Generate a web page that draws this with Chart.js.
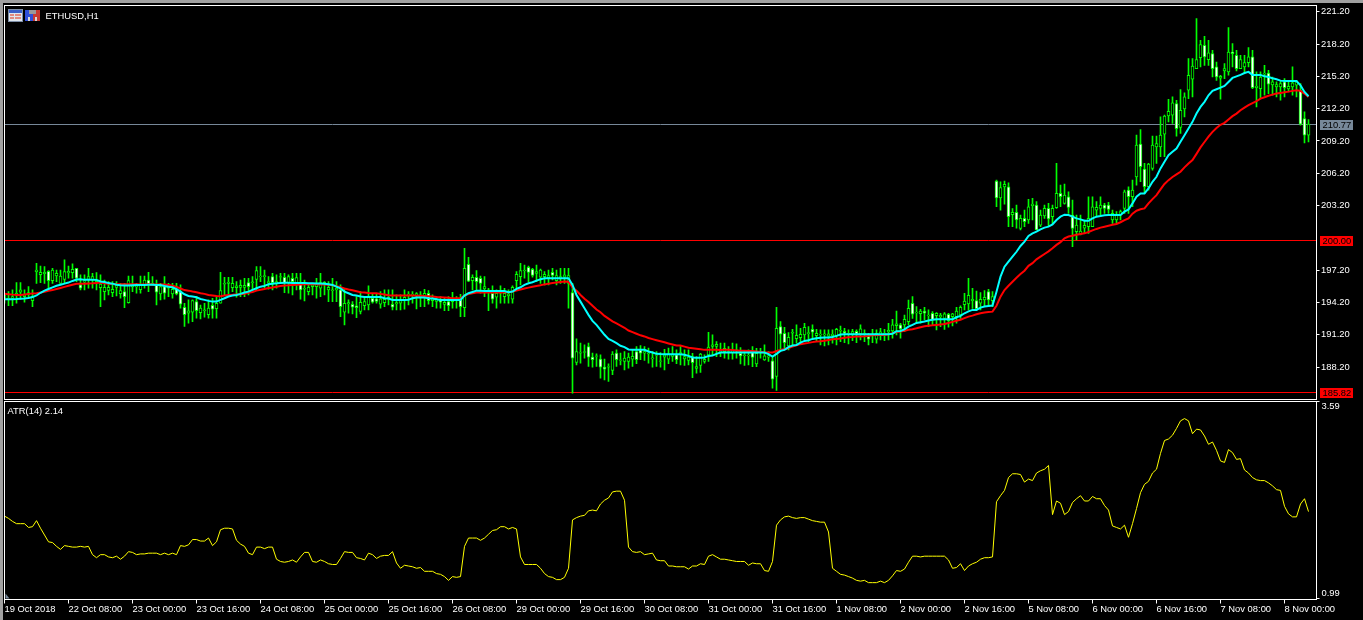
<!DOCTYPE html>
<html><head><meta charset="utf-8">
<script src="https://cdn.jsdelivr.net/npm/chart.js@4"></script>
<style>
html,body{margin:0;padding:0;background:#000;width:1363px;height:620px;overflow:hidden}
canvas{position:absolute;left:0;display:block}
#edgeT{position:absolute;left:0;top:0;width:1363px;height:3px;background:#a0a0a0}
#edgeL{position:absolute;left:0;top:0;width:3px;height:620px;background:#a0a0a0}
</style></head><body>
<canvas id="price" width="1363" height="400" style="top:0;width:1363px;height:400px"></canvas>
<canvas id="atrc" width="1363" height="220" style="top:400px;width:1363px;height:220px"></canvas>
<div id="edgeT"></div><div id="edgeL"></div>
<script>
const timeLabels=['19 Oct 2018','22 Oct 08:00','23 Oct 00:00','23 Oct 16:00','24 Oct 08:00','25 Oct 00:00','25 Oct 16:00','26 Oct 08:00','29 Oct 00:00','29 Oct 16:00','30 Oct 08:00','31 Oct 00:00','31 Oct 16:00','1 Nov 08:00','2 Nov 00:00','2 Nov 16:00','5 Nov 08:00','6 Nov 00:00','6 Nov 16:00','7 Nov 08:00','8 Nov 00:00'];
const priceTicks=[221.2,218.2,215.2,212.2,209.2,206.2,203.2,197.2,194.2,191.2,188.2];
const atrTicks=[0.99,3.59];
const levels=[200.00,185.82];
const bidLevel=[210.77];
const highs=[
195.06,195.21,195.37,196.04,196.04,195.37,195.67,195.37,197.84,197.59,
197.53,197.16,197.37,197.22,197.22,198.15,197.59,197.78,197.37,196.76,
196.76,197.37,196.91,196.97,196.76,196.29,196.14,196.14,196.14,195.98,
195.98,196.66,196.66,195.98,196.66,196.66,197.00,196.60,196.29,195.98,
196.60,195.98,195.98,195.98,195.83,194.13,194.44,194.44,194.75,193.97,
194.13,194.44,194.59,194.75,197.00,196.54,196.54,196.54,196.14,196.29,
196.45,196.45,196.60,197.53,197.53,197.22,196.60,196.91,196.76,196.91,
196.91,196.76,196.91,196.91,196.91,196.29,195.83,195.98,196.45,196.91,
196.14,196.14,196.45,196.14,195.83,195.52,194.44,194.28,194.75,195.21,
194.75,195.74,195.06,195.06,195.21,195.37,195.37,195.37,194.90,194.90,
195.37,195.21,195.21,195.12,195.21,195.43,195.30,194.90,194.75,194.75,
194.59,194.75,195.15,194.75,194.96,199.23,198.39,196.76,197.16,196.66,
196.60,195.52,195.74,195.37,195.74,195.52,195.37,195.74,197.06,197.84,
197.68,197.59,197.37,197.68,197.31,197.06,197.22,197.37,197.22,197.37,
197.37,197.37,195.98,190.82,190.42,190.27,190.42,189.50,189.43,189.34,
188.94,188.51,189.65,189.80,189.50,189.65,189.50,189.80,190.11,190.20,
190.11,189.96,189.65,189.65,189.56,189.86,189.96,190.11,189.80,190.11,
189.80,189.80,189.49,189.18,189.49,189.34,191.44,191.19,190.57,190.42,
190.42,190.11,190.42,190.36,190.02,189.64,189.80,190.11,189.95,189.95,
190.26,189.64,189.24,193.75,192.43,191.90,191.41,191.71,192.12,191.81,
192.27,191.96,192.12,191.71,191.65,191.65,191.65,191.65,191.81,192.02,
191.81,191.65,191.71,191.65,192.12,191.65,191.34,191.71,191.65,191.81,
191.71,192.27,192.64,193.41,192.27,193.04,194.43,194.74,193.82,193.57,
193.75,193.51,193.35,193.26,193.20,193.26,193.20,193.20,193.75,193.88,
195.05,196.44,195.52,195.27,195.11,195.30,195.42,195.21,205.56,205.40,
205.47,205.31,202.93,203.24,202.32,202.78,203.77,203.86,203.56,202.78,
203.25,203.40,203.25,207.11,205.10,205.19,204.48,203.71,202.32,202.32,
201.86,204.02,204.02,203.56,204.02,203.40,203.49,202.78,202.63,202.78,
204.64,204.95,205.56,209.74,210.26,207.11,207.11,209.64,209.64,211.43,
211.59,213.07,213.29,212.98,213.97,213.66,216.84,216.84,220.55,218.54,
218.91,218.54,217.62,216.53,215.30,216.38,219.72,218.23,217.62,217.15,
217.15,217.86,217.62,215.61,215.61,216.22,215.76,215.14,214.68,214.83,
214.99,214.68,216.07,214.83,214.53,211.90,211.19];
const lows=[
194.13,193.91,193.91,194.13,194.50,194.22,194.59,193.82,195.98,196.04,
195.98,195.37,195.98,196.14,195.98,195.98,196.45,196.45,196.14,195.37,
195.37,195.52,195.52,195.37,193.82,194.44,194.90,194.75,194.81,194.59,
193.73,194.13,195.21,195.06,195.06,195.52,195.21,195.83,193.97,194.44,
194.50,194.75,194.59,194.90,193.67,191.97,192.28,192.43,192.74,192.68,
192.83,192.74,192.74,192.74,194.13,194.90,194.90,195.21,194.69,194.75,
194.75,194.90,195.37,195.37,196.14,195.52,195.43,195.37,195.52,196.14,
195.12,195.06,194.90,195.37,194.50,194.35,194.90,194.90,194.59,194.75,
194.90,194.28,194.28,194.28,192.89,192.12,193.20,193.14,192.80,193.14,
193.51,193.51,194.13,194.13,193.67,193.82,193.97,193.51,193.51,193.51,
193.57,193.97,194.13,193.60,193.82,193.82,194.04,193.82,193.67,193.67,
193.45,193.45,193.67,193.67,192.89,192.89,196.14,195.37,195.37,195.06,
194.75,193.45,194.13,193.67,194.13,194.13,194.13,194.13,195.37,195.83,
196.45,196.14,196.54,196.14,195.98,195.83,195.83,196.29,195.83,195.98,
195.98,193.67,185.79,188.41,188.57,189.03,188.26,188.20,188.26,187.18,
187.02,186.87,187.49,188.26,188.41,187.95,188.10,188.26,188.51,188.88,
188.81,188.57,188.20,188.26,188.20,187.95,188.51,188.72,188.51,188.41,
188.35,188.41,187.23,187.64,187.70,188.56,188.72,189.34,189.18,189.18,
189.03,188.93,188.93,189.03,188.50,188.35,188.41,188.25,188.25,189.03,
188.81,188.72,186.25,186.03,189.64,189.95,189.80,190.11,190.42,190.42,
190.73,190.57,190.88,190.57,190.26,190.17,190.26,190.42,190.26,190.57,
190.48,190.36,190.66,190.48,190.73,190.57,190.26,190.48,190.42,190.73,
190.66,190.73,190.88,191.19,190.88,191.50,192.12,192.73,192.27,192.27,
192.58,191.96,192.12,191.65,191.96,191.71,191.90,192.02,192.27,192.73,
193.51,193.51,193.66,193.51,193.51,193.82,193.82,193.82,203.09,202.78,
203.33,201.24,201.24,201.09,200.93,201.24,201.55,201.86,200.93,201.24,
202.01,201.24,201.55,202.94,203.09,203.34,202.47,199.38,200.00,200.47,
200.62,200.62,201.24,202.16,202.16,202.47,202.47,201.55,201.55,201.86,
202.47,202.47,203.09,205.10,205.41,204.33,204.64,206.49,207.11,207.73,
207.73,210.97,210.82,209.64,209.89,211.44,213.13,213.29,215.92,216.07,
216.22,216.22,215.14,214.83,213.07,214.99,215.30,216.07,215.70,215.92,
215.45,216.07,214.06,212.36,213.13,213.44,213.60,213.44,213.29,212.98,
213.29,213.75,213.44,213.29,210.66,209.02,209.12];
const opens=[
194.59,194.50,194.59,194.90,195.15,194.75,194.90,194.38,197.06,196.79,
196.88,197.10,196.23,196.66,195.98,196.35,196.94,196.97,197.37,195.83,
196.08,196.35,196.29,196.14,195.58,195.21,195.33,195.12,195.61,195.03,
195.21,194.19,195.64,195.64,195.40,195.86,196.29,195.83,195.83,195.00,
195.67,195.52,195.00,195.43,195.21,193.76,193.20,193.30,194.28,193.26,
193.45,193.08,193.94,193.63,194.13,195.89,195.98,195.58,195.58,195.61,
195.61,196.04,196.04,196.35,196.60,196.60,196.04,196.60,195.98,196.54,
196.54,196.04,196.45,195.98,195.98,195.43,195.21,195.67,195.67,195.52,
195.83,195.37,195.30,195.37,195.37,193.29,194.07,194.04,193.88,193.36,
193.91,193.97,194.59,194.53,194.04,194.19,194.50,194.04,194.07,194.13,
194.44,194.87,194.90,194.87,194.75,194.69,195.06,194.38,194.31,194.44,
194.01,194.28,194.28,194.44,194.50,193.73,197.74,196.23,196.54,196.45,
195.46,195.21,195.06,194.69,195.06,194.75,194.81,194.50,196.23,196.60,
197.16,197.47,197.28,196.91,196.54,196.60,196.51,197.00,196.23,196.45,
196.54,195.98,195.12,188.63,189.50,189.56,190.11,189.13,189.19,188.94,
188.20,188.20,187.89,189.50,188.81,188.72,188.72,188.94,189.65,189.80,
189.50,189.43,188.97,189.28,188.72,189.12,188.94,189.19,189.34,189.40,
188.96,188.81,189.18,188.07,188.35,188.72,189.34,190.11,190.11,189.61,
189.64,189.55,189.55,189.71,189.49,189.27,189.24,189.64,188.50,189.58,
188.87,189.12,188.78,187.33,191.96,191.34,190.17,191.34,190.85,190.94,
191.19,191.31,191.71,191.13,191.19,191.19,191.07,191.13,191.13,191.53,
191.53,191.28,191.25,191.53,191.28,191.25,191.04,191.13,190.79,191.22,
191.28,191.47,191.56,192.05,192.12,192.12,192.43,194.13,193.23,193.17,
193.41,192.98,193.20,192.98,192.86,192.73,193.10,192.89,192.89,193.04,
194.00,194.06,194.37,194.37,194.13,194.43,195.21,194.37,205.47,203.92,
204.94,204.94,202.35,202.57,201.08,202.01,201.86,203.18,203.25,201.39,
202.23,202.94,202.16,203.00,204.33,203.40,204.02,202.32,200.77,200.53,
201.11,201.24,201.24,202.78,202.94,203.25,203.25,201.86,201.86,202.32,
202.94,204.64,204.02,205.87,208.90,206.58,204.95,206.65,208.65,208.65,
209.83,211.53,211.59,212.67,210.45,212.18,213.91,214.93,215.92,216.93,
218.08,216.75,217.31,216.07,215.02,215.70,215.61,217.46,217.15,215.92,
216.07,216.47,217.00,214.15,214.06,215.39,215.51,214.40,214.22,214.22,
214.68,214.03,214.22,214.37,213.91,211.28,209.74];
const closes=[
194.90,194.59,194.75,195.06,195.37,194.90,195.12,194.75,197.22,197.00,
197.00,196.23,197.22,196.91,196.66,197.06,197.10,197.28,196.45,195.52,
196.23,196.60,196.60,196.29,195.92,195.61,195.61,195.43,195.83,195.30,
194.75,196.23,195.89,195.77,195.86,196.29,195.92,195.98,195.15,195.67,
195.06,195.83,195.43,195.00,194.04,193.08,193.42,194.38,193.45,193.67,
193.51,193.67,193.57,194.13,195.30,195.98,196.08,195.98,195.74,195.80,
195.80,195.67,196.11,197.16,196.66,196.69,196.14,196.04,196.14,196.60,
196.04,196.60,196.14,196.51,195.37,195.52,195.61,195.83,195.92,196.04,
196.08,195.61,195.37,195.52,193.82,194.13,194.19,193.76,193.73,194.22,
194.28,194.75,194.22,194.31,194.53,194.50,194.69,193.76,194.19,194.38,
194.69,194.99,194.96,195.03,194.90,195.06,194.38,194.56,194.50,194.22,
194.22,193.91,194.44,194.50,193.82,197.37,196.17,196.54,196.14,195.98,
195.67,195.37,194.50,195.06,195.21,195.06,195.00,195.61,196.82,197.16,
197.22,197.00,196.72,197.06,197.22,196.82,196.69,196.72,196.69,196.60,
196.76,196.69,189.03,189.65,189.56,189.65,189.13,188.88,189.25,188.20,
188.01,188.26,189.40,188.88,188.88,189.03,189.13,189.19,188.88,189.50,
189.65,189.50,189.06,189.34,188.78,189.34,189.43,189.34,188.88,189.55,
189.18,189.12,188.62,188.25,189.40,188.93,190.05,190.26,190.32,189.71,
189.95,189.64,189.80,189.80,189.24,189.34,189.30,189.09,189.49,189.64,
189.24,189.24,187.08,191.81,191.25,190.48,190.97,191.44,191.16,191.25,
191.90,191.41,191.44,191.34,191.25,191.28,191.28,191.25,191.71,191.62,
191.34,191.34,191.50,191.28,191.75,191.34,190.79,191.19,191.34,191.47,
191.34,191.62,192.12,192.21,191.75,192.64,193.66,193.11,193.32,193.41,
193.20,193.04,192.58,193.20,193.01,193.14,192.52,193.14,193.41,193.75,
194.34,194.87,194.50,193.63,194.50,194.68,194.43,194.74,203.92,204.88,
205.16,202.16,202.57,201.86,202.01,201.70,203.09,203.34,200.93,202.32,
202.94,201.95,202.94,204.33,204.02,204.17,203.03,201.08,201.39,200.84,
201.36,202.01,203.09,203.03,203.25,202.94,202.84,202.47,202.32,202.63,
204.48,204.02,204.64,208.81,206.80,204.95,207.05,208.81,208.96,209.74,
211.50,211.96,212.73,210.35,212.05,213.29,215.30,216.16,216.75,218.14,
217.00,217.37,215.92,215.14,215.20,215.92,217.46,217.31,215.92,216.75,
216.47,217.00,214.15,214.28,215.14,215.51,214.46,214.68,214.43,214.53,
214.15,214.28,214.59,214.68,210.75,209.74,210.77];
const emaFast=[
194.50,194.50,194.50,194.52,194.55,194.56,194.62,194.70,194.85,195.10,
195.30,195.45,195.60,195.75,195.85,195.95,196.05,196.20,196.33,196.35,
196.30,196.30,196.32,196.30,196.15,196.10,196.00,195.95,195.85,195.80,
195.78,195.78,195.80,195.82,195.82,195.83,195.84,195.84,195.83,195.83,
195.74,195.67,195.61,195.43,195.21,194.96,194.81,194.75,194.69,194.53,
194.44,194.35,194.28,194.28,194.44,194.59,194.75,194.84,194.90,195.00,
195.12,195.21,195.37,195.52,195.67,195.74,195.89,195.95,195.98,196.02,
196.03,196.03,196.02,196.02,196.02,196.00,195.98,195.98,195.97,195.96,
195.95,195.89,195.83,195.67,195.52,195.21,195.06,194.90,194.84,194.75,
194.72,194.72,194.72,194.72,194.70,194.59,194.56,194.44,194.44,194.44,
194.44,194.45,194.59,194.66,194.66,194.66,194.59,194.56,194.50,194.44,
194.44,194.44,194.44,194.44,194.44,194.84,195.06,195.18,195.30,195.30,
195.27,195.27,195.27,195.27,195.27,195.27,195.15,195.21,195.46,195.61,
195.83,195.98,196.08,196.23,196.35,196.45,196.45,196.46,196.46,196.46,
196.45,196.45,195.83,194.90,194.28,193.67,193.05,192.49,192.12,191.66,
191.20,190.82,190.64,190.42,190.18,190.05,189.84,189.81,189.81,189.80,
189.80,189.65,189.56,189.43,189.41,189.40,189.40,189.40,189.40,189.40,
189.34,189.24,189.09,189.06,189.06,189.09,189.24,189.27,189.43,189.55,
189.55,189.56,189.55,189.55,189.56,189.55,189.55,189.55,189.55,189.55,
189.55,189.40,189.18,189.43,189.71,189.80,190.05,190.20,190.26,190.48,
190.63,190.69,190.82,190.88,190.92,190.94,190.95,191.00,191.10,191.22,
191.25,191.25,191.26,191.25,191.26,191.25,191.24,191.25,191.25,191.25,
191.26,191.25,191.30,191.53,191.56,191.71,191.96,192.12,192.30,192.36,
192.43,192.52,192.60,192.64,192.64,192.64,192.64,192.64,192.83,192.95,
193.20,193.38,193.51,193.51,193.72,193.82,193.88,193.91,195.20,196.60,
197.52,197.99,198.45,198.91,199.45,199.85,200.37,200.62,200.78,200.99,
201.15,201.24,201.45,201.86,202.17,202.35,202.32,202.17,202.01,201.92,
201.79,201.79,202.01,202.17,202.23,202.30,202.32,202.32,202.32,202.32,
202.63,202.84,203.40,204.02,204.33,204.33,204.79,205.41,205.87,206.65,
207.26,207.88,208.19,208.50,209.12,209.73,210.35,210.97,211.74,212.36,
212.83,213.44,213.85,214.00,214.15,214.31,214.68,215.05,215.20,215.33,
215.51,215.61,215.33,215.33,215.33,215.20,215.14,215.02,214.93,214.80,
214.77,214.77,214.77,214.77,214.37,213.75,213.35];
const emaSlow=[
195.00,194.97,194.93,194.90,194.90,194.95,195.00,195.03,195.05,195.12,
195.20,195.28,195.35,195.45,195.55,195.65,195.75,195.85,195.93,195.95,
195.95,195.97,195.98,196.02,196.05,195.98,195.95,195.92,195.90,195.90,
195.89,195.89,195.90,195.89,195.88,195.88,195.89,195.88,195.88,195.88,
195.88,195.83,195.75,195.65,195.50,195.35,195.30,195.22,195.15,195.05,
195.00,194.90,194.85,194.80,194.78,194.85,194.90,194.92,194.95,194.97,
195.00,195.10,195.17,195.30,195.38,195.45,195.55,195.60,195.67,195.73,
195.78,195.80,195.83,195.85,195.88,195.90,195.90,195.90,195.89,195.88,
195.87,195.85,195.80,195.72,195.61,195.50,195.40,195.33,195.25,195.15,
195.12,195.08,195.06,195.05,195.00,194.95,194.88,194.84,194.84,194.84,
194.84,194.84,194.84,194.83,194.82,194.81,194.79,194.76,194.72,194.69,
194.66,194.63,194.60,194.59,194.59,194.85,194.98,195.05,195.12,195.12,
195.12,195.12,195.12,195.12,195.12,195.14,195.16,195.21,195.30,195.40,
195.50,195.58,195.66,195.74,195.80,195.88,195.95,196.00,196.05,196.10,
196.14,196.12,195.60,195.30,194.90,194.55,194.25,193.90,193.55,193.30,
192.95,192.70,192.45,192.25,192.05,191.85,191.60,191.45,191.30,191.15,
191.05,190.90,190.80,190.70,190.60,190.50,190.40,190.30,190.20,190.20,
190.10,190.00,189.95,189.90,189.85,189.80,189.80,189.80,189.81,189.78,
189.80,189.80,189.78,189.75,189.71,189.71,189.70,189.70,189.65,189.60,
189.55,189.55,189.55,189.70,189.78,189.88,189.98,190.10,190.22,190.33,
190.39,190.45,190.52,190.58,190.60,190.65,190.72,190.78,190.82,190.86,
190.92,190.97,191.00,191.04,191.04,191.06,191.10,191.15,191.17,191.19,
191.19,191.25,191.35,191.45,191.50,191.58,191.66,191.71,191.80,191.90,
192.00,192.05,192.08,192.12,192.16,192.20,192.30,192.40,192.50,192.60,
192.75,192.89,192.98,193.10,193.20,193.26,193.32,193.35,193.90,194.74,
195.36,195.75,196.13,196.50,196.84,197.15,197.60,197.85,198.21,198.45,
198.70,198.95,199.23,199.55,199.80,200.16,200.32,200.40,200.48,200.55,
200.62,200.75,200.90,201.03,201.15,201.24,201.33,201.41,201.49,201.65,
201.85,202.01,202.45,202.72,202.85,202.94,203.40,203.80,204.17,204.70,
205.20,205.56,205.85,206.10,206.34,206.75,207.10,207.42,208.00,208.60,
209.10,209.60,210.04,210.40,210.70,210.88,211.20,211.50,211.74,212.05,
212.30,212.52,212.72,212.90,213.13,213.26,213.40,213.50,213.60,213.66,
213.72,213.78,213.85,213.91,213.85,213.60,213.29];
const atrValues=[
2.08,2.05,2.01,1.98,1.98,1.98,1.93,1.94,2.02,1.92,
1.83,1.74,1.73,1.68,1.64,1.69,1.68,1.67,1.67,1.68,
1.67,1.68,1.57,1.53,1.57,1.57,1.54,1.53,1.55,1.51,
1.55,1.61,1.60,1.57,1.58,1.58,1.59,1.59,1.59,1.57,
1.59,1.57,1.59,1.57,1.69,1.68,1.70,1.77,1.77,1.75,
1.75,1.79,1.69,1.74,1.90,1.92,1.92,1.91,1.76,1.71,
1.68,1.59,1.57,1.67,1.67,1.65,1.67,1.67,1.51,1.48,
1.47,1.48,1.50,1.47,1.54,1.60,1.60,1.48,1.47,1.50,
1.48,1.45,1.44,1.44,1.52,1.61,1.60,1.60,1.53,1.52,
1.50,1.59,1.57,1.52,1.55,1.56,1.56,1.61,1.46,1.39,
1.43,1.42,1.41,1.39,1.40,1.35,1.35,1.35,1.32,1.31,
1.28,1.23,1.28,1.27,1.28,1.68,1.79,1.79,1.79,1.76,
1.79,1.84,1.89,1.90,1.94,1.94,1.91,1.93,1.91,1.54,
1.44,1.44,1.44,1.44,1.39,1.32,1.28,1.27,1.24,1.24,
1.27,1.39,2.03,2.06,2.08,2.09,2.15,2.16,2.15,2.24,
2.29,2.32,2.40,2.41,2.41,2.29,1.67,1.61,1.60,1.61,
1.57,1.58,1.59,1.50,1.49,1.49,1.42,1.42,1.41,1.41,
1.41,1.38,1.42,1.42,1.45,1.44,1.55,1.57,1.54,1.51,
1.51,1.50,1.49,1.48,1.48,1.48,1.43,1.46,1.45,1.45,
1.36,1.35,1.48,1.96,2.03,2.07,2.08,2.06,2.05,2.06,
2.06,2.04,2.02,2.01,2.00,2.00,1.87,1.39,1.35,1.31,
1.30,1.28,1.26,1.23,1.22,1.23,1.20,1.20,1.20,1.22,
1.20,1.23,1.29,1.36,1.35,1.38,1.47,1.55,1.55,1.54,
1.55,1.55,1.55,1.55,1.55,1.55,1.50,1.39,1.40,1.45,
1.36,1.42,1.45,1.47,1.51,1.53,1.53,1.54,2.27,2.35,
2.42,2.59,2.64,2.64,2.63,2.53,2.57,2.55,2.65,2.68,
2.70,2.75,2.10,2.28,2.25,2.10,2.14,2.26,2.31,2.35,
2.28,2.28,2.34,2.31,2.31,2.22,2.16,1.95,1.93,1.91,
1.96,1.80,1.98,2.18,2.39,2.50,2.54,2.65,2.70,2.91,
3.08,3.10,3.15,3.24,3.34,3.37,3.34,3.17,3.23,3.22,
3.14,3.03,3.06,2.95,2.81,2.79,2.96,2.92,2.83,2.84,
2.69,2.65,2.59,2.56,2.55,2.55,2.52,2.48,2.43,2.42,
2.21,2.11,2.07,2.07,2.24,2.31,2.14];

const FONT='Liberation Sans';
const FS=9.4;
const slotCount=329, tickEvery=16;
const labels=Array.from({length:slotCount},(_,i)=>i%tickEvery===0&&timeLabels[i/tickEvery]||'');
const GREEN='#00ff00',WHITE='#ffffff',BLACK='#000000',CYAN='#00ffff',RED='#ff0000',YEL='#ffff00',SLATE='#778899';
const snap=y=>Math.floor(y)+0.5;
Chart.defaults.devicePixelRatio=1;

function frame(chart){
  const {ctx,chartArea:a}=chart;
  ctx.save();ctx.strokeStyle=WHITE;ctx.lineWidth=1;
  ctx.strokeRect(a.left,a.top,a.right-a.left,a.bottom-a.top);
  ctx.restore();
}
function tag(ctx,y,txt,bg){
  ctx.save();
  const c=Math.floor(y);
  ctx.fillStyle=bg;ctx.fillRect(1320,c-4,33,10);
  ctx.fillStyle=BLACK;ctx.font=FS+'px "'+FONT+'"';ctx.textBaseline='middle';ctx.textAlign='left';
  ctx.fillText(txt,1322.5,c+1.5);
  ctx.restore();
}
const pricePlugin={
  id:'pricePlugin',
  beforeDatasetsDraw(chart){
    const {ctx,chartArea:a,scales:{y}}=chart;
    ctx.save();ctx.lineWidth=1;
    ctx.strokeStyle=SLATE;ctx.beginPath();
    const gy=snap(y.getPixelForValue(bidLevel[0]));ctx.moveTo(a.left,gy);ctx.lineTo(a.right,gy);ctx.stroke();
    ctx.strokeStyle=RED;
    levels.forEach(v=>{const p=snap(y.getPixelForValue(v));ctx.beginPath();ctx.moveTo(a.left,p);ctx.lineTo(a.right,p);ctx.stroke();});
    ctx.restore();
  },
  afterDraw(chart){
    const {ctx,scales:{y}}=chart;
    frame(chart);
    tag(ctx,y.getPixelForValue(bidLevel[0]),bidLevel[0].toFixed(2),SLATE);
    levels.forEach(v=>tag(ctx,y.getPixelForValue(v),v.toFixed(2),RED));
    ctx.save();
    ctx.fillStyle='#dfe6ee';ctx.fillRect(8,9,15,13);
    ctx.strokeStyle='#7d8ea6';ctx.strokeRect(8.5,9.5,14,12);
    ctx.fillStyle='#3a5fc8';ctx.fillRect(9,10,13,3);
    ctx.fillStyle='#e08a80';ctx.fillRect(10,14,4,2);ctx.fillRect(15,14,6,2);ctx.fillRect(10,17,4,2);ctx.fillRect(15,17,6,2);
    ctx.fillStyle='#2f4fd8';ctx.fillRect(25,10,8,11);
    ctx.fillStyle='#c83a32';ctx.fillRect(33,10,7,11);
    ctx.fillStyle='#9a9a9a';ctx.fillRect(29,10,7,4);
    ctx.fillStyle='#d9d9d9';ctx.fillRect(28,17,2,4);ctx.fillRect(35,17,2,4);
    ctx.fillStyle=WHITE;ctx.font=FS+'px "'+FONT+'"';ctx.textBaseline='middle';
    ctx.fillText('ETHUSD,H1',45.5,16.5);
    ctx.restore();
  }
};
const atrPlugin={
  id:'atrPlugin',
  afterDraw(chart){
    const {ctx,chartArea:a,scales:{y}}=chart;
    frame(chart);
    ctx.save();
    ctx.fillStyle=WHITE;ctx.font=FS+'px "'+FONT+'"';ctx.textBaseline='middle';ctx.textAlign='left';
    ctx.fillText('ATR(14) '+atrValues[atrValues.length-1].toFixed(2),7.5,11);
    ctx.fillText(atrTicks[1].toFixed(2),1321.5,y.getPixelForValue(atrTicks[1])+4.5);
    ctx.fillText(atrTicks[0].toFixed(2),1321.5,y.getPixelForValue(atrTicks[0])-5);
    ctx.fillStyle=SLATE;ctx.beginPath();ctx.moveTo(a.left+1,a.bottom-6);ctx.lineTo(a.left+5,a.bottom-1);ctx.lineTo(a.left+1,a.bottom-1);ctx.closePath();ctx.fill();
    ctx.restore();
  }
};
const fit=w=>function(s){s.width=w;s.paddingTop=0;s.paddingBottom=0;};
new Chart(document.getElementById('price'),{
  type:'bar',
  plugins:[pricePlugin],
  data:{labels,datasets:[
    {type:'line',label:'fast',data:emaFast,borderColor:CYAN,borderWidth:2,pointRadius:0,tension:0,order:1},
    {type:'line',label:'slow',data:emaSlow,borderColor:RED,borderWidth:2,pointRadius:0,tension:0,order:2},
    {type:'bar',label:'body',data:opens.map((o,i)=>[o,closes[i]]),barThickness:3,grouped:false,borderWidth:1,borderSkipped:false,borderColor:GREEN,
      backgroundColor:opens.map((o,i)=>closes[i]<o?WHITE:BLACK),order:3},
    {type:'bar',label:'wick',data:highs.map((h,i)=>[lows[i],h]),barThickness:1,grouped:false,borderWidth:0,backgroundColor:GREEN,order:4}
  ]},
  options:{
    responsive:false,animation:false,events:[],
    layout:{padding:{left:4.5,top:5.5,bottom:0.5,right:0}},
    plugins:{legend:{display:false},tooltip:{enabled:false},title:{display:false}},
    scales:{
      x:{type:'category',offset:false,display:false,grid:{offset:false,display:false}},
      y:{position:'right',min:185.192,max:221.776,afterFit:fit(46.5),
        afterBuildTicks:s=>{s.ticks=priceTicks.map(v=>({value:v}));},
        grid:{drawOnChartArea:false,drawTicks:true,tickLength:3,color:WHITE},
        border:{display:true,color:WHITE,width:1},
        ticks:{autoSkip:false,padding:1.5,color:WHITE,font:{family:FONT,size:FS},callback:v=>Number(v).toFixed(2)}
      }
    }
  }
});
new Chart(document.getElementById('atrc'),{
  type:'line',
  plugins:[atrPlugin],
  data:{labels,datasets:[{label:'ATR(14)',data:atrValues,borderColor:YEL,borderWidth:1,pointRadius:0,tension:0}]},
  options:{
    responsive:false,animation:false,events:[],
    layout:{padding:{left:4.5,top:1.5,bottom:0,right:0}},
    plugins:{legend:{display:false},tooltip:{enabled:false},title:{display:false}},
    scales:{
      x:{type:'category',offset:false,afterFit:function(s){s.height=20.5;},
        afterBuildTicks:s=>{s.ticks=s.ticks.filter(t=>t.value%tickEvery===0&&t.value<timeLabels.length*tickEvery);},
        grid:{offset:false,drawOnChartArea:false,drawTicks:true,tickLength:4,color:WHITE},
        border:{display:true,color:WHITE,width:1},
        ticks:{autoSkip:false,maxRotation:0,minRotation:0,align:'start',padding:0,color:WHITE,font:{family:FONT,size:FS}}
      },
      y:{position:'right',min:0.977,max:3.596,afterFit:fit(46.5),
        afterBuildTicks:s=>{s.ticks=atrTicks.map(v=>({value:v}));},
        grid:{drawOnChartArea:false,drawTicks:true,tickLength:3,color:WHITE},
        border:{display:true,color:WHITE,width:1},
        ticks:{display:false}
      }
    }
  }
});
</script>
</body></html>
